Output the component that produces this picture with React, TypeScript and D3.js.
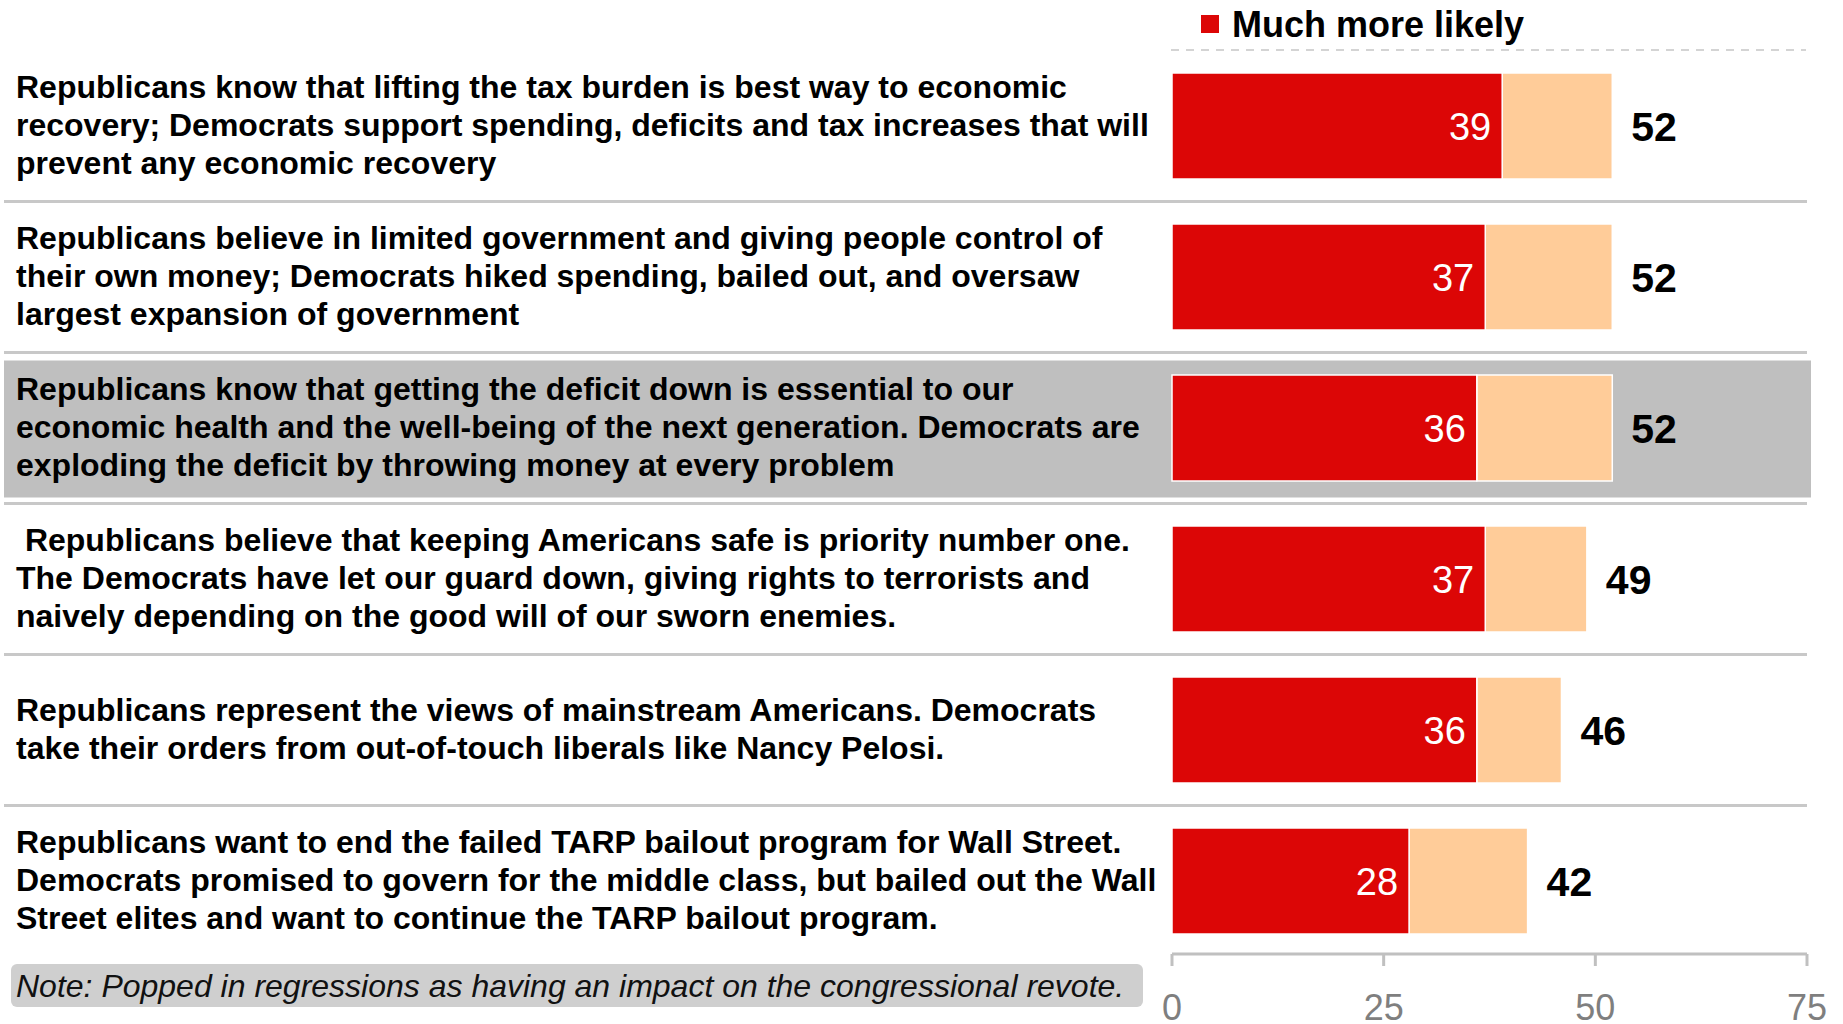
import React from "react";
import * as d3 from "d3";

const categories: string[][] = [
  [
    "Republicans know that lifting the tax burden is best way to economic",
    "recovery; Democrats support spending, deficits and tax increases that will",
    "prevent any economic recovery",
  ],
  [
    "Republicans believe in limited government and giving people control of",
    "their own money; Democrats hiked spending, bailed out, and oversaw",
    "largest expansion of government",
  ],
  [
    "Republicans know that getting the deficit down is essential to our",
    "economic health and the well-being of the next generation. Democrats are",
    "exploding the deficit by throwing money at every problem",
  ],
  [
    " Republicans believe that keeping Americans safe is priority number one.",
    "The Democrats have let our guard down, giving rights to terrorists and",
    "naively depending on the good will of our sworn enemies.",
  ],
  [
    "Republicans represent the views of mainstream Americans. Democrats",
    "take their orders from out-of-touch liberals like Nancy Pelosi.",
  ],
  [
    "Republicans want to end the failed TARP bailout program for Wall Street.",
    "Democrats promised to govern for the middle class, but bailed out the Wall",
    "Street elites and want to continue the TARP bailout program.",
  ],
];
const muchMoreLikely = [39, 37, 36, 37, 36, 28];
const totalMoreLikely = [52, 52, 52, 49, 46, 42];
const xTicks = [0, 25, 50, 75];
const highlightIndex = 2;
const legendLabel = "Much more likely";
const noteText = "Note: Popped in regressions as having an impact on the congressional revote.";

const W = 1843;
const H = 1024;
const RED = "#dc0606";
const PEACH = "#ffcc99";
const FONT = "'Liberation Sans', Arial, Helvetica, sans-serif";

export default function App() {
  const x = d3.scaleLinear().domain([0, 75]).range([1172, 1807]);
  const idx = categories.map((_, i) => i);
  const y = d3
    .scaleBand<number>()
    .domain(idx)
    .range([50.5, 956.5])
    .paddingInner(0.298)
    .paddingOuter(0.149);
  const bw = y.bandwidth();
  const step = y.step();
  const gap = (step - bw) / 2;
  const lineH = 38.3;
  const axisY = 954;

  return (
    <div style={{ position: "absolute", left: 0, top: 0, width: W, height: H, background: "#fff" }}>
      <svg width={W} height={H} style={{ display: "block", fontFamily: FONT }}>
        <rect x={0} y={0} width={W} height={H} fill="#fff" />
        {/* legend */}
        <rect x={1201} y={15} width={18} height={18} fill={RED} />
        <text x={1232} y={37} fontSize={36} fontWeight="bold" fill="#000">
          {legendLabel}
        </text>
        <line x1={1171} x2={1806} y1={50} y2={50} stroke="#d4d4d4" strokeWidth={2} strokeDasharray="8 7" />

        {/* highlight band */}
        <rect
          x={4}
          y={(y(highlightIndex) as number) - gap + 8}
          width={1807}
          height={bw + 2 * gap - 14}
          fill="#bfbfbf"
        />

        {/* separators */}
        {idx.slice(1).map((i) => (
          <line
            key={"sep" + i}
            x1={4}
            x2={1807}
            y1={(y(i) as number) - gap}
            y2={(y(i) as number) - gap}
            stroke="#c8c8c8"
            strokeWidth={3}
          />
        ))}

        {/* bars */}
        {idx.map((i) => {
          const y0 = y(i) as number;
          const cy = y0 + bw / 2;
          return (
            <g key={"bar" + i}>
              <rect
                x={x(muchMoreLikely[i])}
                y={y0}
                width={x(totalMoreLikely[i]) - x(muchMoreLikely[i])}
                height={bw}
                fill={PEACH}
                stroke="#fff"
                strokeWidth={1.5}
              />
              <rect
                x={x(0)}
                y={y0}
                width={x(muchMoreLikely[i]) - x(0)}
                height={bw}
                fill={RED}
                stroke="#fff"
                strokeWidth={1.5}
              />
              <text
                x={x(muchMoreLikely[i]) - 11}
                y={cy + 14}
                textAnchor="end"
                fontSize={38}
                fill="#fff"
              >
                {muchMoreLikely[i]}
              </text>
              <text
                x={x(totalMoreLikely[i]) + 19}
                y={cy + 15}
                fontSize={41}
                fontWeight="bold"
                fill="#000"
              >
                {totalMoreLikely[i]}
              </text>
              {categories[i].map((ln, j) => (
                <text
                  key={j}
                  x={16}
                  y={cy + (j - (categories[i].length - 1) / 2) * lineH + 10}
                  fontSize={32}
                  fontWeight="bold"
                  fill="#000"
                  style={{ whiteSpace: "pre" }}
                >
                  {ln}
                </text>
              ))}
            </g>
          );
        })}

        {/* axis */}
        <line x1={x(0)} x2={x(75)} y1={axisY} y2={axisY} stroke="#c0c0c0" strokeWidth={3} />
        {xTicks.map((t) => (
          <g key={"t" + t}>
            <line x1={x(t)} x2={x(t)} y1={axisY} y2={axisY + 12} stroke="#c0c0c0" strokeWidth={3} />
            <text x={x(t)} y={1020} textAnchor="middle" fontSize={36} fill="#7f7f7f">
              {t}
            </text>
          </g>
        ))}

        {/* note */}
        <rect x={11} y={964} width={1132} height={43} rx={6} fill="#cfcfcf" />
        <text x={16} y={997} fontSize={32} fontStyle="italic" fill="#111">
          {noteText}
        </text>
      </svg>
    </div>
  );
}
